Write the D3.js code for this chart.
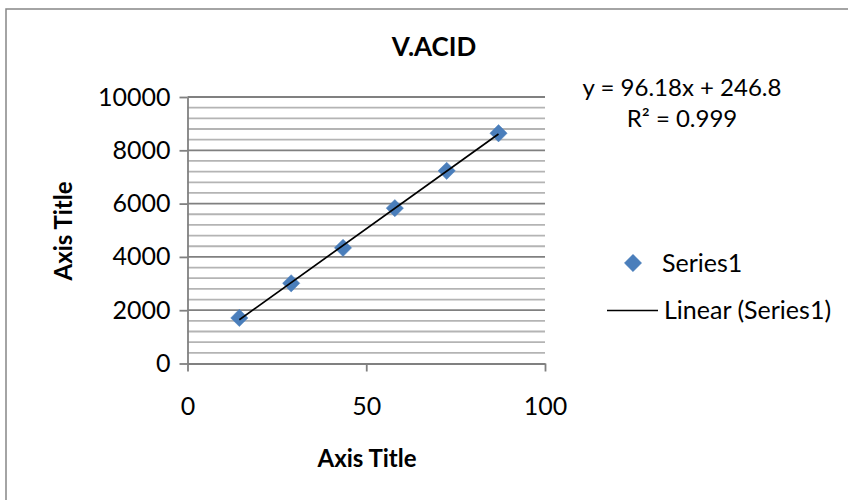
<!DOCTYPE html>
<html><head><meta charset="utf-8">
<script src="https://cdn.jsdelivr.net/npm/d3@7"></script>
<style>
html,body{margin:0;padding:0;background:#fff;}
text{font-family:Lato, "Open Sans", sans-serif;fill:#000;}
</style></head>
<body><svg id="c" width="848" height="500"></svg>
<script>
const title = "V.ACID";
const xAxisTitle = "Axis Title";
const yAxisTitle = "Axis Title";
const seriesName = "Series1";
const trendName = "Linear (Series1)";
const equationText = "y = 96.18x + 246.8";
const r2Text = "R² = 0.999";
const xValues = [14.5, 29, 43.5, 58, 72.5, 87];
const yValues = [1710, 3010, 4340, 5830, 7230, 8640];
const xTicks = [0, 50, 100];
const yTicks = [0, 2000, 4000, 6000, 8000, 10000];
const yMinor = d3.range(0, 10001, 400);

const svg = d3.select("#c");
const x = d3.scaleLinear().domain([0, 100]).range([187.5, 545]);
const y = d3.scaleLinear().domain([0, 10000]).range([363.5, 97]);

// chart border
svg.append("rect").attr("x", 6).attr("y", 9).attr("width", 900).attr("height", 600)
  .attr("fill", "none").attr("stroke", "#878787").attr("stroke-width", 1.5);

// minor gridlines
svg.append("g").selectAll("line").data(yMinor.filter(v => v % 2000 !== 0)).join("line")
  .attr("x1", x(0)).attr("x2", x(100)).attr("y1", d => y(d)).attr("y2", d => y(d))
  .attr("stroke", "#b4b4b4").attr("stroke-width", 1.8);
// major gridlines
svg.append("g").selectAll("line").data(yTicks.filter(v => v > 0)).join("line")
  .attr("x1", x(0)).attr("x2", x(100)).attr("y1", d => y(d)).attr("y2", d => y(d))
  .attr("stroke", "#808080").attr("stroke-width", 1.8);

// axes
const yAxis = svg.append("g").attr("transform", `translate(${x(0)},0)`)
  .call(d3.axisLeft(y).tickValues(yTicks).tickSize(8).tickPadding(9).tickSizeOuter(0).tickFormat(d3.format("d")));
const xAxis = svg.append("g").attr("transform", `translate(0,${y(0)})`)
  .call(d3.axisBottom(x).tickValues(xTicks).tickSize(8).tickPadding(26).tickSizeOuter(0));
[yAxis, xAxis].forEach(g => {
  g.select(".domain").attr("stroke", "#808080").attr("stroke-width", 1.8);
  g.selectAll(".tick line").attr("stroke", "#808080").attr("stroke-width", 1.8);
  g.selectAll(".tick text").attr("font-size", 25).attr("font-family", "Lato, sans-serif").attr("fill", "#000");
});

// regression from data
const mx = d3.mean(xValues), my = d3.mean(yValues);
const slope = d3.sum(xValues, (v, i) => (v - mx) * (yValues[i] - my)) / d3.sum(xValues, v => (v - mx) ** 2);
const intercept = my - slope * mx;
const xr = d3.extent(xValues);

// points
const diamond = d3.symbol().type(d3.symbolDiamond2).size(190);
svg.append("g").selectAll("path").data(xValues).join("path")
  .attr("d", diamond)
  .attr("transform", (d, i) => `translate(${x(d)},${y(yValues[i])})`)
  .attr("fill", "#4a7ebb").attr("stroke", "#4a7ebb").attr("stroke-width", 0.5);

// trendline
svg.append("line")
  .attr("x1", x(xr[0])).attr("y1", y(slope * xr[0] + intercept))
  .attr("x2", x(xr[1])).attr("y2", y(slope * xr[1] + intercept))
  .attr("stroke", "#000").attr("stroke-width", 1.7);

// title
svg.append("text").attr("x", 434).attr("y", 56).attr("text-anchor", "middle")
  .attr("font-size", 26).attr("font-weight", "bold").text(title);
svg.append("text").attr("x", 367).attr("y", 467).attr("text-anchor", "middle")
  .attr("font-size", 24).attr("font-weight", "bold").text(xAxisTitle);
svg.append("text").attr("transform", "translate(72,231) rotate(-90)").attr("text-anchor", "middle")
  .attr("font-size", 24).attr("font-weight", "bold").text(yAxisTitle);

// equation
svg.append("text").attr("x", 682).attr("y", 96).attr("text-anchor", "middle")
  .attr("font-size", 24).text(equationText);
svg.append("text").attr("x", 682).attr("y", 127).attr("text-anchor", "middle")
  .attr("font-size", 24).text(r2Text);

// legend
svg.append("path").attr("d", diamond).attr("transform", "translate(633,263)")
  .attr("fill", "#4a7ebb").attr("stroke", "#4a7ebb").attr("stroke-width", 0.5);
svg.append("text").attr("x", 662).attr("y", 272).attr("font-size", 25).text(seriesName);
svg.append("line").attr("x1", 607).attr("x2", 658).attr("y1", 310.5).attr("y2", 310.5)
  .attr("stroke", "#000").attr("stroke-width", 1.7);
svg.append("text").attr("x", 664).attr("y", 319).attr("font-size", 25).text(trendName);
</script></body></html>
